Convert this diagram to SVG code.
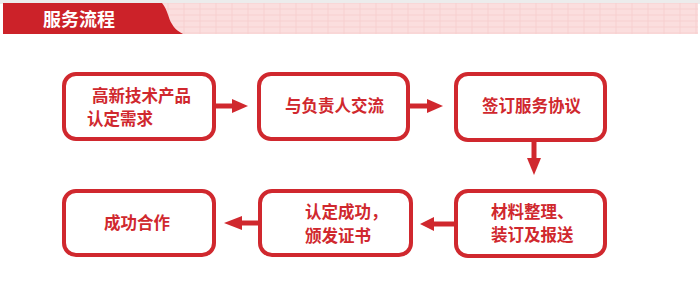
<svg xmlns="http://www.w3.org/2000/svg" width="700" height="298" viewBox="0 0 700 298">
<defs>
<style>
.box{fill:#fff;stroke:#d0282e;stroke-width:4}
.t{font-family:"Noto Sans CJK SC","Noto Sans",sans-serif;font-size:16.5px;font-weight:bold;fill:#d0282e}
.title{font-family:"Noto Sans CJK SC","Noto Sans",sans-serif;font-size:18px;font-weight:bold;fill:#fff}
.shaft{stroke:#d0282e;stroke-width:5;fill:none}
.head{fill:#d0282e}
</style>
<pattern id="tex" width="16" height="6" patternUnits="userSpaceOnUse">
<rect width="16" height="6" fill="#fbdede"/>
<path d="M0 3H16M8 0V6" stroke="#f8d0d0" stroke-width="1"/>
</pattern>
</defs>
<rect width="700" height="298" fill="#fff"/>
<g id="header">
<rect x="0" y="0" width="700" height="4" fill="#ececec"/>
<rect x="162" y="3" width="536" height="31" fill="url(#tex)"/>
<path d="M3 3H162C168 10 168 18 172 24C175 30 180 32 183 34H3Z" fill="#cc2229"/>
<text class="title" x="43" y="26">服务流程</text>
</g>
<g id="connectors">
<line class="shaft" x1="214" y1="106" x2="234" y2="106"/>
<polygon class="head" points="232,99 248,106 232,113"/>
<line class="shaft" x1="408" y1="106" x2="429" y2="106"/>
<polygon class="head" points="427,99 443,106 427,113"/>
<line class="shaft" x1="534" y1="140" x2="534" y2="160"/>
<polygon class="head" points="527,158 534,175 541,158"/>
<line class="shaft" x1="455" y1="224" x2="431" y2="224"/>
<polygon class="head" points="434,217 420,224 434,231"/>
<line class="shaft" x1="259" y1="223" x2="240" y2="223"/>
<polygon class="head" points="242,216 224,223 242,230"/>
</g>
<g id="n1">
<rect class="box" x="64" y="74" width="150" height="65" rx="12"/>
<text class="t" x="92" y="102">高新技术产品</text>
<text class="t" x="87" y="125">认定需求</text>
</g>
<g id="n2">
<rect class="box" x="259" y="74" width="149" height="65" rx="12"/>
<text class="t" x="285" y="112">与负责人交流</text>
</g>
<g id="n3">
<rect class="box" x="456" y="74" width="149" height="66" rx="12"/>
<text class="t" x="482" y="112">签订服务协议</text>
</g>
<g id="n4">
<rect class="box" x="456" y="191" width="149" height="65" rx="12"/>
<text class="t" x="491" y="218">材料整理、</text>
<text class="t" x="491" y="241">装订及报送</text>
</g>
<g id="n5">
<rect class="box" x="260" y="191" width="151" height="64" rx="12"/>
<text class="t" x="305" y="218">认定成功，</text>
<text class="t" x="305" y="242">颁发证书</text>
</g>
<g id="n6">
<rect class="box" x="64" y="191" width="150" height="64" rx="12"/>
<text class="t" x="104" y="229">成功合作</text>
</g>
</svg>
